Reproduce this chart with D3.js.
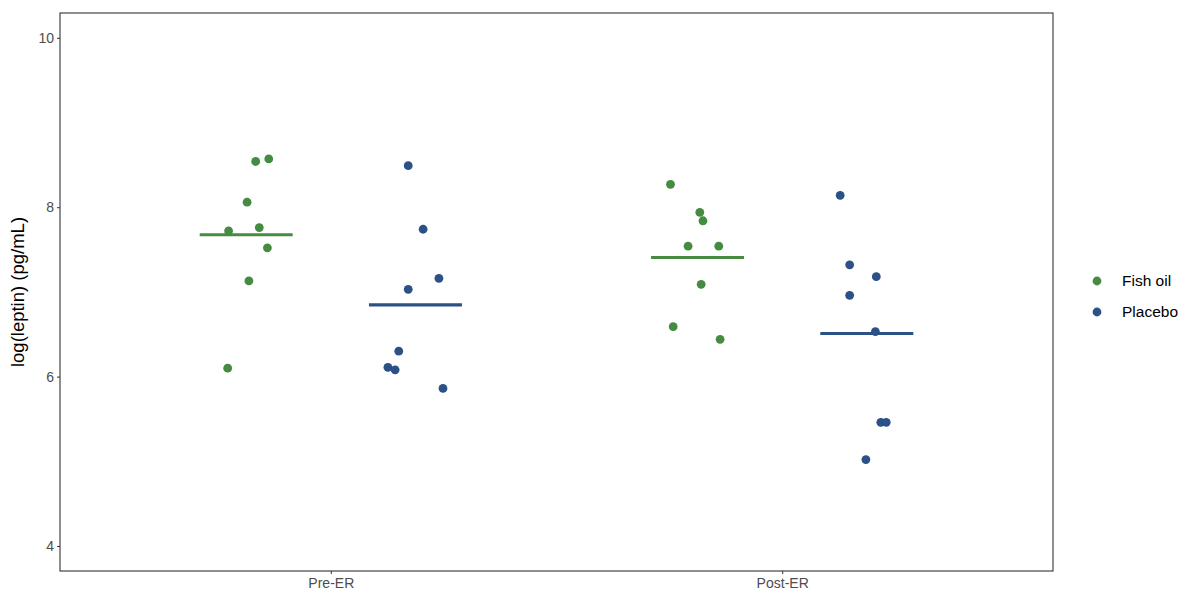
<!DOCTYPE html>
<html>
<head>
<meta charset="utf-8">
<script src="https://cdn.jsdelivr.net/npm/d3@7"></script>
<style>
  html, body { margin: 0; padding: 0; background: #fff; }
  svg { display: block; font-family: "Liberation Sans", Arial, sans-serif; }
</style>
</head>
<body>
<svg id="chart" width="1186" height="596"></svg>
<script>
// Time points and treatment groups
const timepoints = ["Pre-ER", "Post-ER"];
const groups = ["Fish oil", "Placebo"];
const groupColors = ["#458b42", "#2b5186"];
const yTicks = [4, 6, 8, 10];

// log(leptin) per subject, one array per time point x group
const fishPre   = [8.54, 8.57, 8.06, 7.72, 7.76, 7.52, 7.13, 6.10];
const placeboPre  = [8.49, 7.74, 7.16, 7.03, 6.30, 6.11, 6.08, 5.86];
const fishPost  = [8.27, 7.94, 7.84, 7.54, 7.54, 7.09, 6.59, 6.44];
const placeboPost = [8.14, 7.32, 7.18, 6.96, 6.53, 5.46, 5.46, 5.02];

// Horizontal jitter of each point (in category units)
const fishPreJit   = [0.021, 0.050, 0.002, -0.039, 0.029, 0.047, 0.006, -0.041];
const placeboPreJit  = [-0.016, 0.017, 0.052, -0.016, -0.037, -0.061, -0.045, 0.061];
const fishPostJit  = [-0.060, 0.005, 0.012, -0.021, 0.047, 0.008, -0.054, 0.050];
const placeboPostJit = [-0.059, -0.038, 0.021, -0.038, 0.019, 0.031, 0.043, -0.002];

const cells = [
  { time: "Pre-ER",  group: "Fish oil", values: fishPre,     jitter: fishPreJit },
  { time: "Pre-ER",  group: "Placebo",  values: placeboPre,  jitter: placeboPreJit },
  { time: "Post-ER", group: "Fish oil", values: fishPost,    jitter: fishPostJit },
  { time: "Post-ER", group: "Placebo",  values: placeboPost, jitter: placeboPostJit }
];

const panel = { left: 60, top: 13, right: 1053, bottom: 571 };
const svg = d3.select("#chart");

// Discrete x axis: positions 1..n with 0.6 padding on both ends
const x = d3.scaleLinear().domain([0.4, timepoints.length + 0.6]).range([panel.left, panel.right]);
const y = d3.scaleLinear().domain([3.705, 10.293]).range([panel.bottom, panel.top]);
const color = d3.scaleOrdinal().domain(groups).range(groupColors);

const dodgeWidth = 0.75;
const meanWidth = 0.2;
function groupCenter(time, group) {
  const i = timepoints.indexOf(time) + 1;
  const g = groups.indexOf(group);
  return i + (g - (groups.length - 1) / 2) * (dodgeWidth / groups.length);
}

// Axes
const yAxis = d3.axisLeft(y).tickValues(yTicks).tickSize(3).tickPadding(3).tickFormat(d3.format("d"));
const gy = svg.append("g").attr("transform", `translate(${panel.left},0)`).call(yAxis);
gy.select(".domain").remove();
gy.selectAll(".tick line").attr("stroke", "#333").attr("stroke-width", 1);
gy.selectAll(".tick text").attr("fill", "#4d4d4d").style("font-size", "14px");

const xAxis = d3.axisBottom(x).tickValues(timepoints.map((d, i) => i + 1))
  .tickFormat((d, i) => timepoints[i]).tickSize(3).tickPadding(4);
const gx = svg.append("g").attr("transform", `translate(0,${panel.bottom})`).call(xAxis);
gx.select(".domain").remove();
gx.selectAll(".tick line").attr("stroke", "#333").attr("stroke-width", 1);
gx.selectAll(".tick text").attr("fill", "#4d4d4d").style("font-size", "14px");

// Group means
svg.append("g").selectAll("line").data(cells).join("line")
  .attr("x1", d => x(groupCenter(d.time, d.group) - meanWidth / 2 - 0.003))
  .attr("x2", d => x(groupCenter(d.time, d.group) + meanWidth / 2 + 0.003))
  .attr("y1", d => y(d3.mean(d.values)))
  .attr("y2", d => y(d3.mean(d.values)))
  .attr("stroke", d => color(d.group))
  .attr("stroke-width", 3.2);

// Individual points
const pts = cells.flatMap(c => c.values.map((v, k) => ({ group: c.group, v, xp: groupCenter(c.time, c.group) + c.jitter[k] })));
svg.append("g").selectAll("circle").data(pts).join("circle")
  .attr("cx", d => x(d.xp))
  .attr("cy", d => y(d.v))
  .attr("r", 4.4)
  .attr("fill", d => color(d.group));

// Panel border
svg.append("rect")
  .attr("x", panel.left).attr("y", panel.top)
  .attr("width", panel.right - panel.left).attr("height", panel.bottom - panel.top)
  .attr("fill", "none").attr("stroke", "#333").attr("stroke-width", 1.1);

// Y axis title
svg.append("text")
  .attr("transform", `translate(24,${(panel.top + panel.bottom) / 2}) rotate(-90)`)
  .attr("text-anchor", "middle")
  .attr("fill", "#000")
  .style("font-size", "18.5px")
  .text("log(leptin) (pg/mL)");

// Legend
const legend = svg.append("g").selectAll("g").data(groups).join("g")
  .attr("transform", (d, i) => `translate(1097,${281 + i * 31})`);
legend.append("circle").attr("r", 4.4).attr("fill", d => color(d));
legend.append("text").attr("x", 25).attr("dy", "0.35em")
  .attr("fill", "#000").style("font-size", "15.5px").text(d => d);
</script>
</body>
</html>
